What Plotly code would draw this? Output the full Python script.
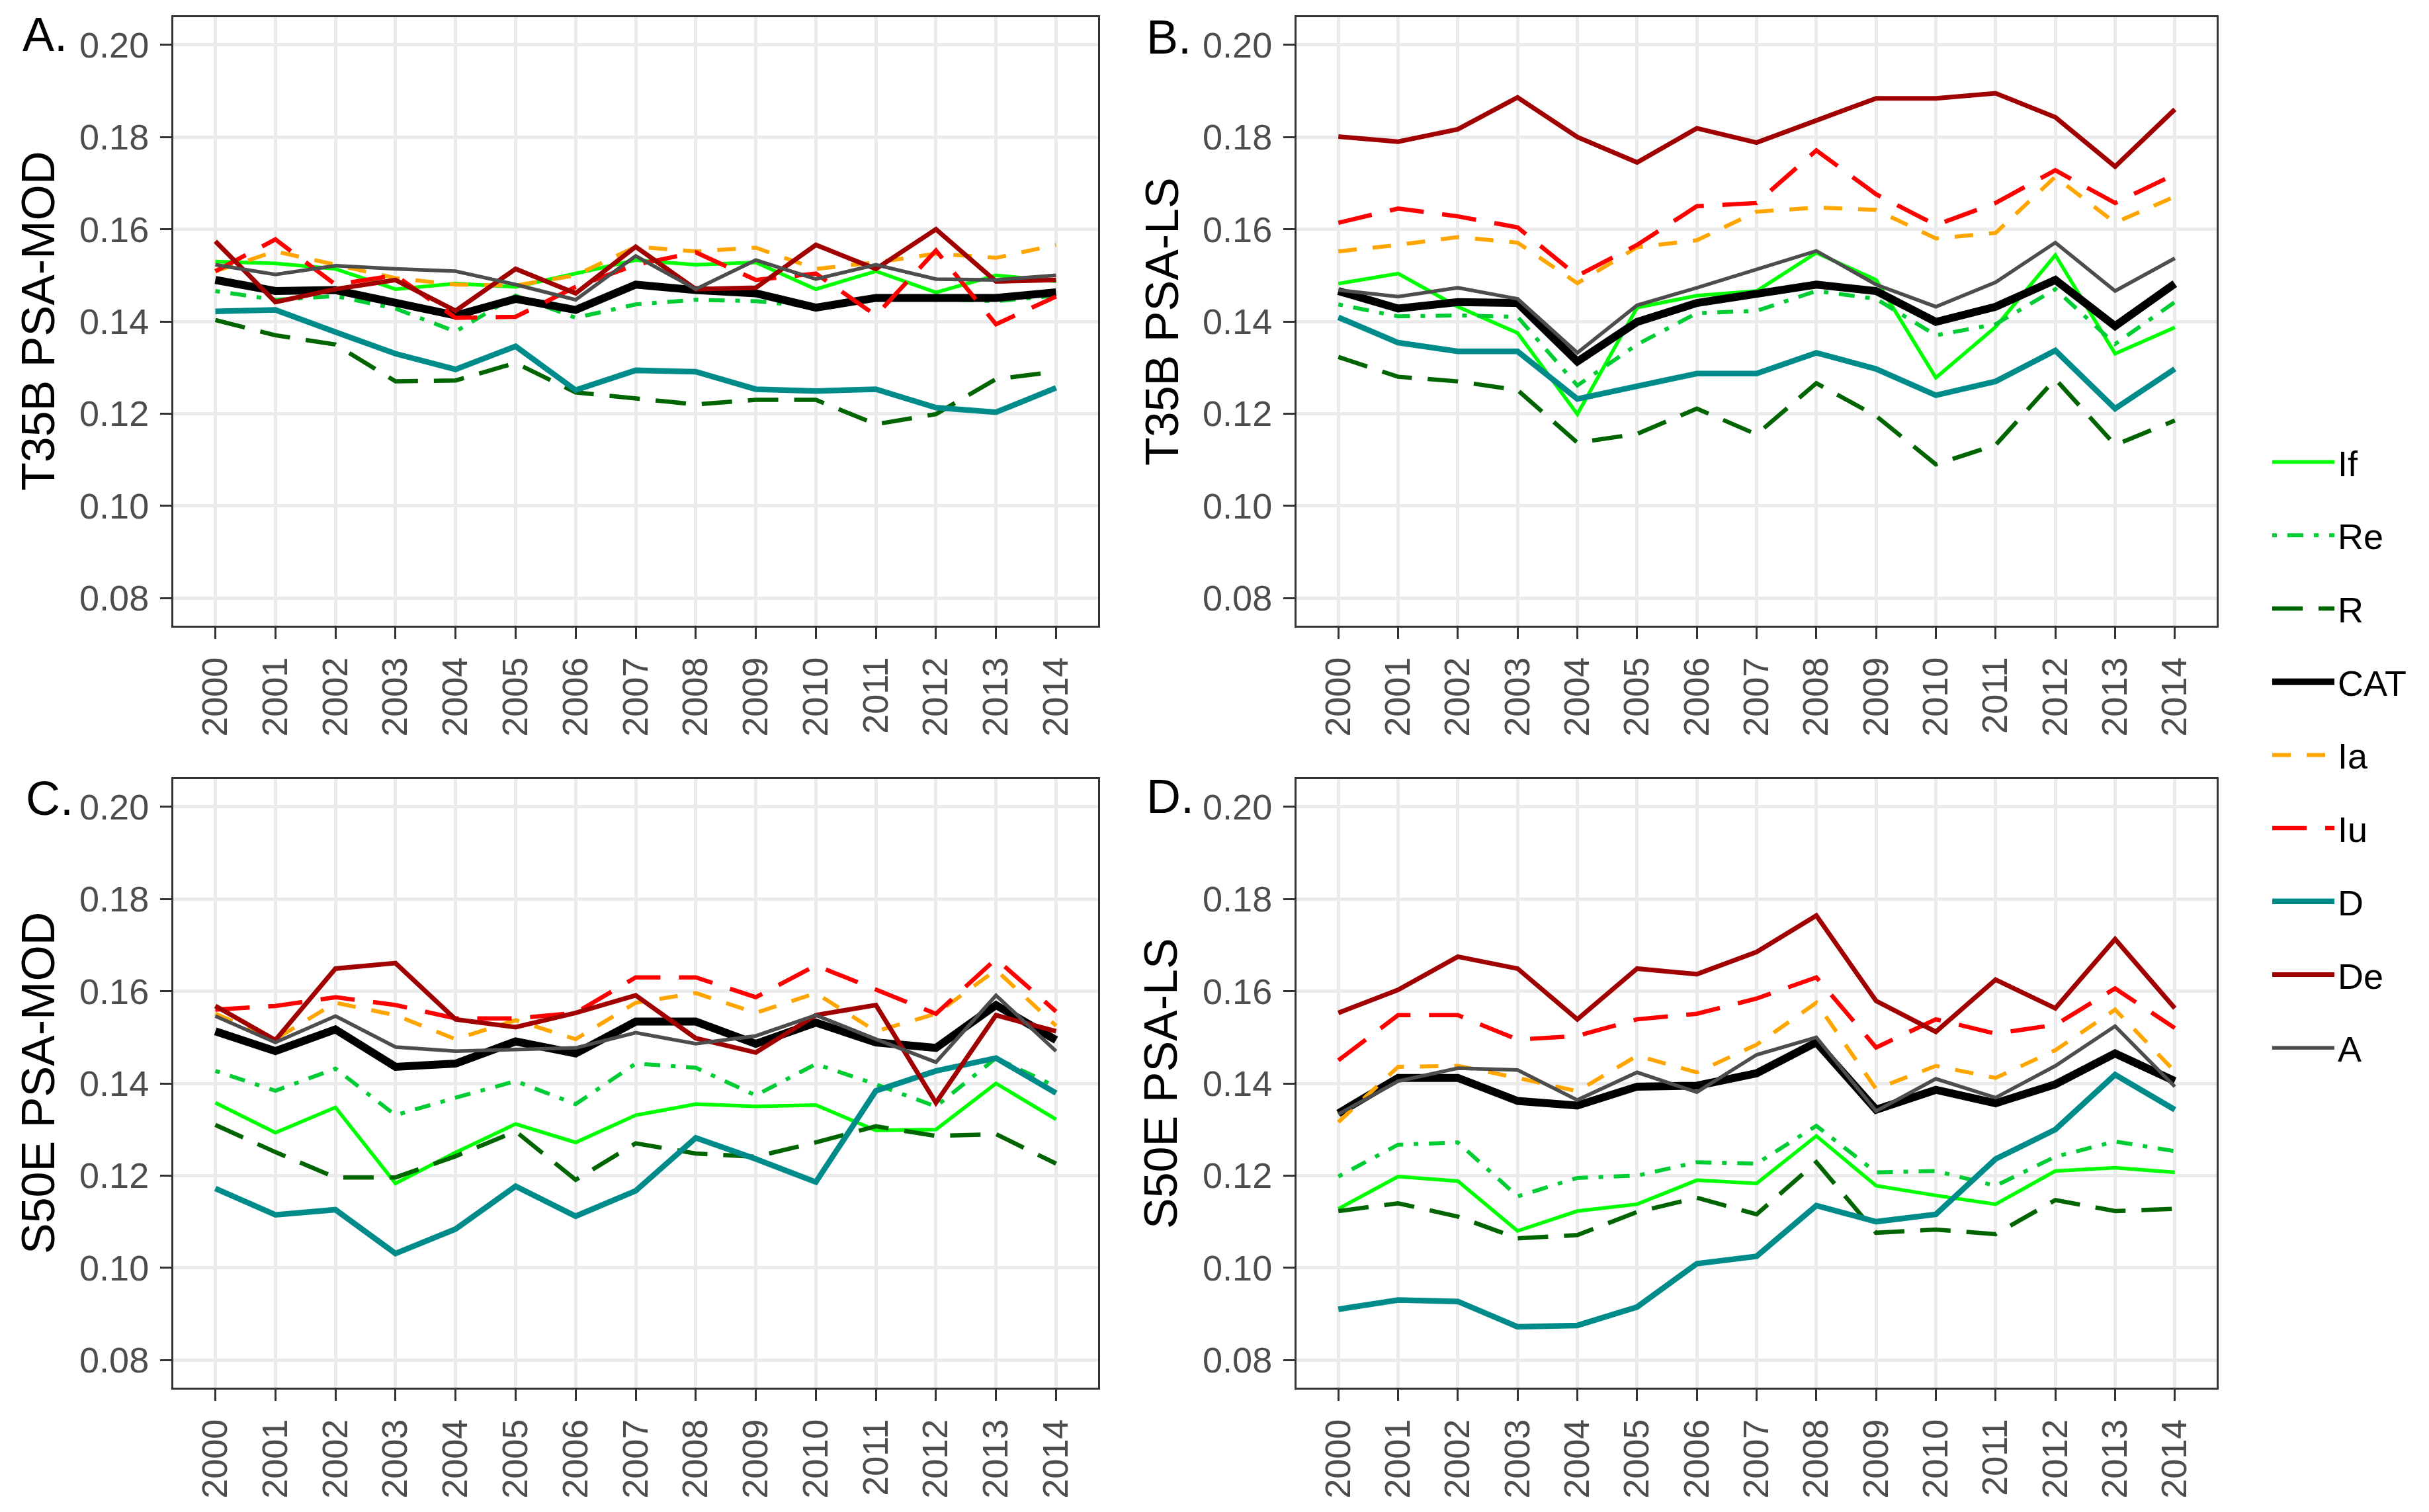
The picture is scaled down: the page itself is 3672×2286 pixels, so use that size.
import plotly.graph_objects as go

# ---------------- data ----------------
years = list(range(2000, 2015))
year_labels = [str(y) for y in years]
y_ticks = [0.08, 0.10, 0.12, 0.14, 0.16, 0.18, 0.20]
y_tick_labels = ["0.08", "0.10", "0.12", "0.14", "0.16", "0.18", "0.20"]
series_names = ["If", "Re", "R", "CAT", "Ia", "Iu", "D", "De", "A"]
panel_letters = ["A.", "B.", "C.", "D."]
panel_titles = ["T35B PSA-MOD", "T35B PSA-LS", "S50E PSA-MOD", "S50E PSA-LS"]

# Panel A: T35B PSA-MOD
a_If = [0.1530, 0.1526, 0.1514, 0.1470, 0.1482, 0.1475, 0.1504, 0.1533, 0.1523, 0.1528, 0.1470, 0.1509, 0.1463, 0.1500, 0.1487]
a_Re = [0.1466, 0.1447, 0.1455, 0.1428, 0.1378, 0.1456, 0.1408, 0.1437, 0.1447, 0.1444, 0.1432, 0.1447, 0.1449, 0.1444, 0.1456]
a_R = [0.1403, 0.1370, 0.1350, 0.1270, 0.1272, 0.1310, 0.1246, 0.1234, 0.1220, 0.1230, 0.1230, 0.1177, 0.1199, 0.1275, 0.1291]
a_CAT = [0.1490, 0.1466, 0.1468, 0.1440, 0.1413, 0.1449, 0.1425, 0.1480, 0.1468, 0.1461, 0.1430, 0.1451, 0.1449, 0.1451, 0.1463]
a_Ia = [0.1509, 0.1552, 0.1523, 0.1494, 0.1480, 0.1478, 0.1500, 0.1562, 0.1552, 0.1560, 0.1514, 0.1528, 0.1547, 0.1538, 0.1566]
a_Iu = [0.1509, 0.1578, 0.1480, 0.1500, 0.1408, 0.1410, 0.1475, 0.1523, 0.1550, 0.1490, 0.1504, 0.1413, 0.1554, 0.1394, 0.1454]
a_D = [0.1422, 0.1425, 0.1377, 0.1330, 0.1296, 0.1346, 0.1251, 0.1294, 0.1291, 0.1253, 0.1249, 0.1253, 0.1213, 0.1203, 0.1256]
a_De = [0.1574, 0.1442, 0.1470, 0.1490, 0.1423, 0.1514, 0.1461, 0.1562, 0.1470, 0.1473, 0.1566, 0.1514, 0.1600, 0.1487, 0.1490]
a_A = [0.1523, 0.1502, 0.1521, 0.1514, 0.1509, 0.1480, 0.1447, 0.1542, 0.1470, 0.1533, 0.1492, 0.1523, 0.1492, 0.1490, 0.1500]

# Panel B: T35B PSA-LS
b_If = [0.1482, 0.1504, 0.1432, 0.1375, 0.1199, 0.1430, 0.1456, 0.1466, 0.1549, 0.1490, 0.1278, 0.1388, 0.1544, 0.1330, 0.1387]
b_Re = [0.1437, 0.1411, 0.1413, 0.1410, 0.1261, 0.1350, 0.1418, 0.1423, 0.1466, 0.1449, 0.1370, 0.1394, 0.1470, 0.1351, 0.1442]
b_R = [0.1323, 0.1280, 0.1270, 0.1251, 0.1137, 0.1156, 0.1211, 0.1155, 0.1266, 0.1195, 0.1090, 0.1132, 0.1275, 0.1132, 0.1185]
b_CAT = [0.1466, 0.1428, 0.1442, 0.1440, 0.1313, 0.1399, 0.1440, 0.1459, 0.1480, 0.1466, 0.1399, 0.1432, 0.1490, 0.1390, 0.1482]
b_Ia = [0.1552, 0.1566, 0.1583, 0.1571, 0.1483, 0.1561, 0.1576, 0.1638, 0.1647, 0.1642, 0.1580, 0.1592, 0.1714, 0.1614, 0.1671]
b_Iu = [0.1614, 0.1645, 0.1628, 0.1604, 0.1499, 0.1566, 0.1650, 0.1657, 0.1771, 0.1676, 0.1609, 0.1657, 0.1728, 0.1657, 0.1719]
b_D = [0.1409, 0.1354, 0.1335, 0.1335, 0.1232, 0.1261, 0.1287, 0.1287, 0.1332, 0.1297, 0.1240, 0.1270, 0.1337, 0.1211, 0.1297]
b_De = [0.1801, 0.1790, 0.1817, 0.1886, 0.1800, 0.1745, 0.1819, 0.1788, 0.1836, 0.1884, 0.1884, 0.1895, 0.1843, 0.1736, 0.1860]
b_A = [0.1468, 0.1454, 0.1473, 0.1449, 0.1332, 0.1435, 0.1473, 0.1513, 0.1553, 0.1480, 0.1432, 0.1485, 0.1571, 0.1466, 0.1537]

# Panel C: S50E PSA-MOD
c_If = [0.1358, 0.1293, 0.1348, 0.1183, 0.1250, 0.1312, 0.1272, 0.1331, 0.1355, 0.1350, 0.1353, 0.1298, 0.1300, 0.1400, 0.1322]
c_Re = [0.1427, 0.1384, 0.1432, 0.1331, 0.1369, 0.1405, 0.1355, 0.1443, 0.1434, 0.1374, 0.1442, 0.1398, 0.1350, 0.1455, 0.1393]
c_R = [0.1310, 0.1251, 0.1196, 0.1196, 0.1242, 0.1296, 0.1191, 0.1270, 0.1248, 0.1241, 0.1272, 0.1307, 0.1286, 0.1290, 0.1226]
c_CAT = [0.1513, 0.1470, 0.1517, 0.1436, 0.1443, 0.1491, 0.1465, 0.1534, 0.1534, 0.1486, 0.1532, 0.1489, 0.1477, 0.1570, 0.1494]
c_Ia = [0.1551, 0.1496, 0.1575, 0.1548, 0.1496, 0.1537, 0.1496, 0.1575, 0.1596, 0.1553, 0.1596, 0.1513, 0.1551, 0.1646, 0.1525]
c_Iu = [0.1560, 0.1568, 0.1587, 0.1570, 0.1541, 0.1541, 0.1553, 0.1630, 0.1630, 0.1587, 0.1656, 0.1603, 0.1551, 0.1670, 0.1556]
c_D = [0.1172, 0.1115, 0.1126, 0.1031, 0.1084, 0.1177, 0.1112, 0.1167, 0.1282, 0.1236, 0.1186, 0.1384, 0.1427, 0.1455, 0.1379]
c_De = [0.1568, 0.1494, 0.1649, 0.1661, 0.1539, 0.1522, 0.1553, 0.1591, 0.1498, 0.1467, 0.1548, 0.1570, 0.1358, 0.1548, 0.1513]
c_A = [0.1546, 0.1489, 0.1546, 0.1479, 0.1470, 0.1474, 0.1477, 0.1510, 0.1486, 0.1503, 0.1548, 0.1496, 0.1446, 0.1591, 0.1470]

# Panel D: S50E PSA-LS
d_If = [0.1128, 0.1198, 0.1188, 0.1080, 0.1123, 0.1138, 0.1190, 0.1183, 0.1286, 0.1178, 0.1157, 0.1138, 0.1210, 0.1217, 0.1207]
d_Re = [0.1198, 0.1267, 0.1272, 0.1155, 0.1195, 0.1200, 0.1229, 0.1226, 0.1308, 0.1207, 0.1210, 0.1178, 0.1241, 0.1274, 0.1253]
d_R = [0.1123, 0.1140, 0.1111, 0.1064, 0.1071, 0.1121, 0.1152, 0.1116, 0.1229, 0.1076, 0.1083, 0.1073, 0.1147, 0.1123, 0.1128]
d_CAT = [0.1335, 0.1412, 0.1412, 0.1362, 0.1352, 0.1393, 0.1395, 0.1422, 0.1489, 0.1343, 0.1386, 0.1357, 0.1398, 0.1465, 0.1405]
d_Ia = [0.1316, 0.1436, 0.1438, 0.1412, 0.1383, 0.1460, 0.1424, 0.1484, 0.1575, 0.1388, 0.1438, 0.1412, 0.1472, 0.1560, 0.1426]
d_Iu = [0.1450, 0.1548, 0.1548, 0.1495, 0.1503, 0.1539, 0.1551, 0.1584, 0.1630, 0.1478, 0.1539, 0.1508, 0.1527, 0.1606, 0.1520]
d_D = [0.0910, 0.0930, 0.0927, 0.0872, 0.0875, 0.0915, 0.1009, 0.1025, 0.1135, 0.1100, 0.1116, 0.1236, 0.1300, 0.1419, 0.1343]
d_De = [0.1553, 0.1603, 0.1675, 0.1649, 0.1539, 0.1649, 0.1637, 0.1685, 0.1764, 0.1579, 0.1512, 0.1625, 0.1563, 0.1713, 0.1563]
d_A = [0.1333, 0.1405, 0.1433, 0.1429, 0.1364, 0.1424, 0.1381, 0.1462, 0.1500, 0.1340, 0.1410, 0.1369, 0.1438, 0.1524, 0.1393]

panels = [
    [a_If, a_Re, a_R, a_CAT, a_Ia, a_Iu, a_D, a_De, a_A],
    [b_If, b_Re, b_R, b_CAT, b_Ia, b_Iu, b_D, b_De, b_A],
    [c_If, c_Re, c_R, c_CAT, c_Ia, c_Iu, c_D, c_De, c_A],
    [d_If, d_Re, d_R, d_CAT, d_Ia, d_Iu, d_D, d_De, d_A],
]

# ---------------- styles ----------------
W, H = 3672, 2286
FONT = "Liberation Sans, Arial, Helvetica, sans-serif"
styles = {
    "If":  dict(color="#00FF00", width=5.5, dash="solid"),
    "Re":  dict(color="#00CC33", width=6, dash="7px,16px,24px,16px"),
    "R":   dict(color="#006400", width=6.5, dash="46px,24px"),
    "CAT": dict(color="#000000", width=12, dash="solid"),
    "Ia":  dict(color="#FFA500", width=6, dash="28px,24px"),
    "Iu":  dict(color="#FF0000", width=6.5, dash="52px,28px"),
    "D":   dict(color="#008B8B", width=8.5, dash="solid"),
    "De":  dict(color="#A00000", width=7, dash="solid"),
    "A":   dict(color="#4D4D4D", width=5.5, dash="solid"),
}

# panel geometry in pixels (left, right, top, bottom)
boxes = [
    (262, 1660, 26, 946),
    (1960, 3351, 26, 946),
    (262, 1660, 1178, 2098),
    (1960, 3351, 1178, 2098),
]
title_x = [58, 1757, 58, 1755]
letter_pos = [(32, 52), (1731, 56), (37, 1207), (1731, 1204)]

fig = go.Figure()
for p, data in enumerate(panels):
    sfx = "" if p == 0 else str(p + 1)
    for name, vals in zip(series_names, data):
        st = styles[name]
        fig.add_trace(go.Scatter(
            x=years, y=vals, mode="lines", name=name,
            line=dict(color=st["color"], width=st["width"], dash=st["dash"]),
            xaxis="x" + sfx, yaxis="y" + sfx,
            legendgroup=name, showlegend=(p == 0),
        ))

layout = dict(
    width=W, height=H,
    margin=dict(l=0, r=0, t=0, b=0),
    paper_bgcolor="white", plot_bgcolor="white",
    font=dict(family=FONT, color="#4D4D4D"),
    legend=dict(
        x=3430 / W, y=1 - 657 / H, xanchor="left", yanchor="top",
        font=dict(size=54, color="black", family=FONT),
        tracegroupgap=37.5, itemwidth=94, bgcolor="rgba(0,0,0,0)",
    ),
    annotations=[],
)

for p, (l, r, t, b) in enumerate(boxes):
    sfx = "" if p == 0 else str(p + 1)
    layout["xaxis" + sfx] = dict(
        domain=[l / W, r / W], anchor="y" + sfx,
        range=[1999.3, 2014.7],
        tickmode="array", tickvals=years, ticktext=year_labels, tickangle=-90,
        tickfont=dict(size=54, color="#4D4D4D", family=FONT),
        ticks="outside", ticklen=17, tickwidth=3, tickcolor="#333333",
        ticklabelstandoff=6,
        showgrid=True, gridcolor="#EBEBEB", gridwidth=5,
        showline=True, mirror=True, linecolor="#333333", linewidth=3,
        zeroline=False, automargin=False, fixedrange=True,
    )
    layout["yaxis" + sfx] = dict(
        domain=[1 - b / H, 1 - t / H], anchor="x" + sfx,
        range=[0.074, 0.206],
        tickmode="array", tickvals=y_ticks, ticktext=y_tick_labels,
        tickfont=dict(size=54, color="#4D4D4D", family=FONT),
        ticks="outside", ticklen=17, tickwidth=3, tickcolor="#333333",
        ticklabelstandoff=6,
        showgrid=True, gridcolor="#EBEBEB", gridwidth=5,
        showline=True, mirror=True, linecolor="#333333", linewidth=3,
        zeroline=False, automargin=False, fixedrange=True,
    )
    layout["annotations"].append(dict(
        text=panel_titles[p], xref="paper", yref="paper",
        x=title_x[p] / W, y=1 - (t + b) / 2 / H,
        xanchor="center", yanchor="middle", textangle=-90, showarrow=False,
        font=dict(size=70, color="black", family=FONT),
    ))
    lx, ly = letter_pos[p]
    layout["annotations"].append(dict(
        text=panel_letters[p], xref="paper", yref="paper",
        x=lx / W, y=1 - ly / H, xanchor="left", yanchor="middle",
        showarrow=False, font=dict(size=72, color="black", family=FONT),
    ))

fig.update_layout(**layout)
fig.write_html(
    "out.html",
    config={"displayModeBar": False},
    post_script="document.body.style.margin='0';document.body.style.overflow='hidden';",
)
